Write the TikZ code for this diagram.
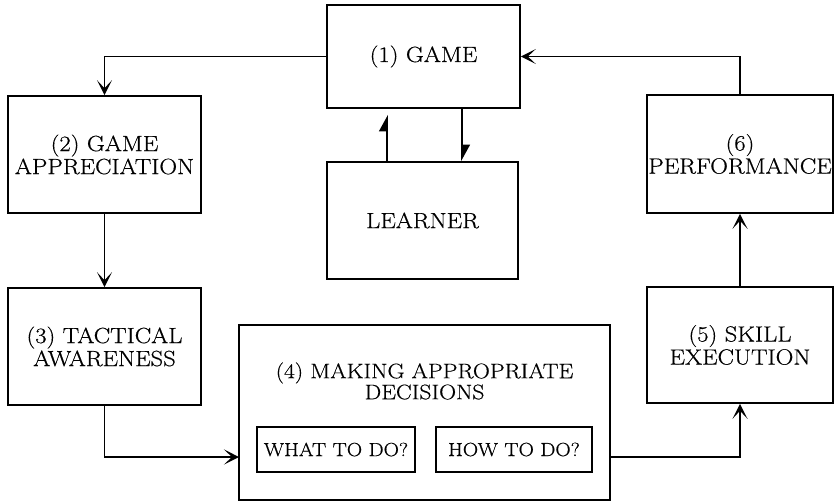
\documentclass[tikz,border=0pt]{standalone}
\usepackage{fontspec}
\setmainfont{Latin Modern Roman}[FakeStretch=1.12,FakeBold=0.5]
\usetikzlibrary{arrows.meta,positioning}
\begin{document}
\begin{tikzpicture}[x=1pt,y=-1pt,
  box/.style={draw,line width=1.6pt,inner sep=0pt,align=center,font=\fontsize{22}{23}\selectfont},
  small/.style={draw,line width=1.3pt,inner sep=0pt,align=center,font=\fontsize{19}{19}\selectfont},
  arr/.style={line width=1.8pt,-{Stealth[length=15pt,width=15pt,inset=8pt]}},
  harp/.style={line width=1.8pt,-{Triangle[harpoon,length=15pt,width=16pt]}}]
\useasboundingbox (0,0) rectangle (834,503);
\node[box,minimum width=193pt,minimum height=103pt] (game) at (423.5,56.5) {(1) GAME};
\node[box,minimum width=191pt,minimum height=117pt] (learner) at (422.5,220.5) {LEARNER};
\node[box,minimum width=193pt,minimum height=117pt] (app) at (104.5,154.5) {(2) GAME\\APPRECIATION};
\node[box,minimum width=193pt,minimum height=117pt] (tac) at (104.5,346.5) {(3) TACTICAL\\AWARENESS};
\node[box,minimum width=186pt,minimum height=118pt] (perf) at (740,154) {(6)\\PERFORMANCE};
\node[box,minimum width=186pt,minimum height=116pt] (skill) at (740,345) {(5) SKILL\\EXECUTION};
\node[box,minimum width=371pt,minimum height=175pt] (dec) at (424.5,412.5) {};
\node[align=center,inner sep=0pt,font=\fontsize{21}{21}\selectfont] (dectitle) at (424.5,381) {(4) MAKING APPROPRIATE\\DECISIONS};
\node[small,minimum width=158pt,minimum height=45pt] (what) at (336,449.5) {WHAT TO DO?};
\node[small,minimum width=156pt,minimum height=45pt] (how) at (514,449.5) {HOW TO DO?};
\coordinate (din) at (239,457);
\coordinate (dout) at (610,457);
\draw[arr] (game.west) -| (app.north);
\draw[arr] (app.south) -- (tac.north);
\draw[arr] (tac.south) |- (din);
\draw[arr] (dout) -| (skill.south);
\draw[arr] (skill.north) -- (perf.north |- perf.south);
\draw[arr] (perf.north) |- (game.east);
\draw[harp,shorten >=6pt] (learner.north -| 387,0) -- (game.south -| 387,0);
\draw[harp] (game.south -| 462,0) -- (learner.north -| 462,0);
\end{tikzpicture}
\end{document}
